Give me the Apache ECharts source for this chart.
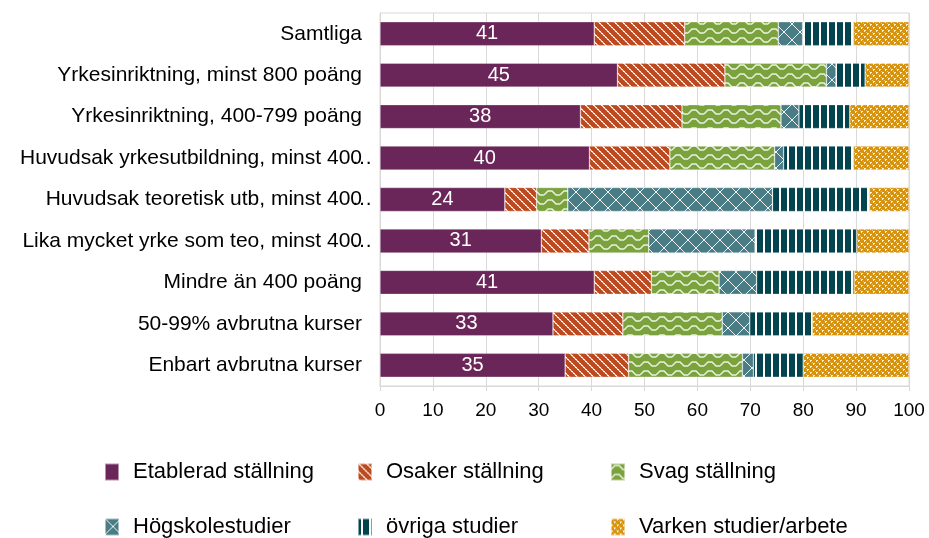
<!DOCTYPE html>
<html>
<head>
<meta charset="utf-8">
<script src="https://cdn.jsdelivr.net/npm/echarts@6/dist/echarts.min.js"></script>
<style>
  html, body { margin: 0; padding: 0; background: #fff; }
  #chart { width: 929px; height: 538px; }
</style>
</head>
<body>
<div id="chart"></div>
<script>
// categories, top to bottom
var categories = [
  'Samtliga',
  'Yrkesinriktning, minst 800 poäng',
  'Yrkesinriktning, 400-799 poäng',
  'Huvudsak yrkesutbildning, minst 400…',
  'Huvudsak teoretisk utb, minst 400…',
  'Lika mycket yrke som teo, minst 400…',
  'Mindre än 400 poäng',
  '50-99% avbrutna kurser',
  'Enbart avbrutna kurser'
];
var seriesNames = ['Etablerad ställning', 'Osaker ställning', 'Svag ställning',
  'Högskolestudier', 'övriga studier', 'Varken studier/arbete'];

// percent per group
var etablerad = [40.5, 44.9, 37.9, 39.6, 23.6, 30.5, 40.5, 32.7, 35.0];
var osaker    = [17.1, 20.3, 19.2, 15.2, 6.0, 9.0, 10.8, 13.2, 12.0];
var svag      = [17.7, 19.2, 18.7, 19.8, 5.9, 11.3, 12.8, 18.8, 21.5];
var hogskola  = [4.6, 1.8, 3.4, 1.7, 38.7, 20.1, 7.1, 5.2, 2.1];
var ovriga    = [9.6, 5.5, 9.6, 13.2, 18.3, 19.2, 18.4, 11.8, 9.4];
var varken    = [10.5, 8.3, 11.2, 10.5, 7.5, 9.9, 10.4, 18.3, 20.0];
var xTicks = [0, 100, 10];  // min, max, step

var FONT = 'Liberation Sans';

// small canvas tiles for the excel-like pattern fills
function tile(w, h, bg, draw) {
  var c = document.createElement('canvas');
  c.width = w; c.height = h;
  var ctx = c.getContext('2d');
  ctx.fillStyle = bg;
  ctx.fillRect(0, 0, w, h);
  ctx.fillStyle = '#fff';
  ctx.strokeStyle = '#fff';
  draw(ctx);
  return { image: c, repeat: 'repeat' };
}

var fillPurple = '#6B2659';
var fillOrange = tile(8, 8, '#BD4A1E', function (ctx) {
  for (var y = 0; y < 8; y++) {
    ctx.globalAlpha = (y % 2) ? 0.95 : 0.6;
    ctx.fillRect(y, y, 1, 1);
    ctx.fillRect((y + 1) % 8, y, 1, 1);
  }
});
var fillGreen = tile(16, 9, '#7BA33D', function (ctx) {
  ctx.globalAlpha = 0.85;
  ctx.lineWidth = 1.4;
  ctx.beginPath();
  ctx.moveTo(0, 6); ctx.lineTo(4, 2); ctx.lineTo(8, 2);
  ctx.lineTo(12, 6); ctx.lineTo(16, 6);
  ctx.stroke();
});
var fillTeal = tile(16, 16, '#4A7C86', function (ctx) {
  ctx.globalAlpha = 0.9;
  for (var i = 0; i < 16; i += 2) {
    ctx.fillRect(i, i, 1, 1);
    ctx.fillRect(15 - i, i, 1, 1);
    ctx.fillRect(i + 1, i + 1, 1, 1);
    ctx.fillRect(14 - i, i + 1, 1, 1);
  }
});
var fillDark = tile(8, 8, '#03444F', function (ctx) {
  ctx.fillRect(3, 0, 2, 8);
});
var fillYellow = tile(6, 6, '#D7930C', function (ctx) {
  ctx.globalAlpha = 0.85;
  ctx.fillRect(0, 0, 2, 1);
  ctx.fillRect(0, 1, 1, 1);
  ctx.fillRect(3, 3, 2, 1);
  ctx.fillRect(3, 4, 1, 1);
  ctx.globalAlpha = 0.45;
  ctx.fillRect(2, 2, 1, 1);
  ctx.fillRect(5, 5, 1, 1);
});

var seriesData = [etablerad, osaker, svag, hogskola, ovriga, varken];
var fills = [fillPurple, fillOrange, fillGreen, fillTeal, fillDark, fillYellow];

var series = seriesData.map(function (d, i) {
  var s = {
    name: seriesNames[i],
    type: 'bar',
    stack: 'total',
    barWidth: 24,
    data: d,
    itemStyle: { color: fills[i], borderColor: 'rgba(255,255,255,0.5)', borderWidth: 0.6 },
    emphasis: { disabled: true }
  };
  if (i === 0) {
    s.label = {
      show: true,
      position: 'inside',
      color: '#fff',
      fontSize: 20,
      fontFamily: FONT,
      formatter: function (p) { return Math.round(p.value); }
    };
  }
  return s;
});

// legend laid out as a 3x2 grid, one legend per item
var legendCols = [104, 357, 610];
var legendRows = [461, 516];
var legends = seriesNames.map(function (n, i) {
  return {
    data: [n],
    left: legendCols[i % 3],
    top: legendRows[Math.floor(i / 3)],
    padding: 0,
    icon: 'rect',
    itemWidth: 14,
    itemHeight: 17,
    itemGap: 0,
    selectedMode: false,
    textStyle: { color: '#000', fontSize: 22, fontFamily: FONT, padding: [0, 0, 0, 9] }
  };
});

var chart = echarts.init(document.getElementById('chart'), null, { renderer: 'canvas' });
chart.setOption({
  animation: false,
  backgroundColor: '#fff',
  grid: {
    left: 380, right: 20, top: 13, bottom: 152,
    show: true, borderColor: '#D9D9D9', borderWidth: 1
  },
  legend: legends,
  xAxis: {
    type: 'value',
    min: xTicks[0], max: xTicks[1], interval: xTicks[2],
    axisLine: { show: true, lineStyle: { color: '#D9D9D9' } },
    axisTick: { show: true, length: 5, lineStyle: { color: '#D9D9D9' } },
    splitLine: { show: true, lineStyle: { color: '#D9D9D9', width: 1 } },
    axisLabel: { color: '#000', fontSize: 19, fontFamily: FONT, margin: 15 }
  },
  yAxis: {
    type: 'category',
    inverse: true,
    data: categories,
    axisLine: { show: true, lineStyle: { color: '#D9D9D9' } },
    axisTick: { show: false },
    axisLabel: {
      color: '#000', fontSize: 21, fontFamily: FONT, margin: 18,
      // truncated labels: let the ellipsis hang past the label edge
      formatter: function (v) {
        if (v.slice(-1) === '…') return '{t|' + v.slice(0, -1) + '}{e|…}';
        return '{t|' + v + '}';
      },
      rich: {
        t: { fontSize: 21, fontFamily: FONT, color: '#000' },
        e: { fontSize: 21, fontFamily: FONT, color: '#000', width: 0, align: 'left' }
      }
    }
  },
  series: series
});
</script>
</body>
</html>
